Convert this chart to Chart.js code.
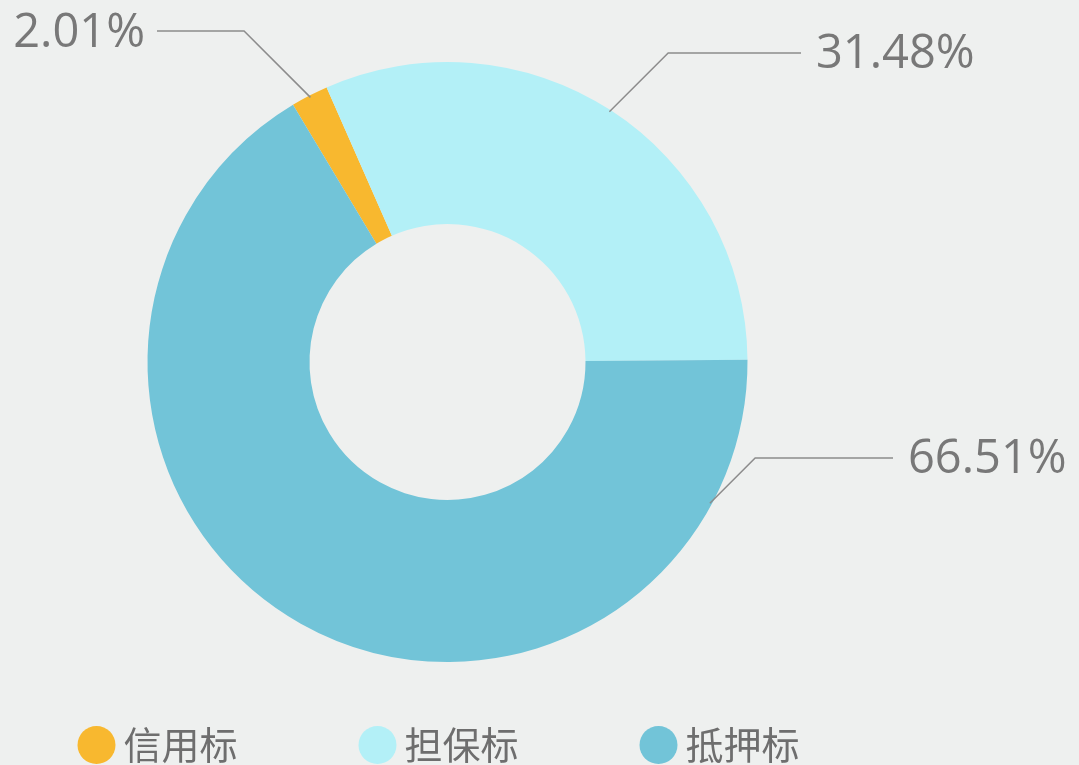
<!DOCTYPE html>
<html>
<head>
<meta charset="utf-8">
<script src="https://cdn.jsdelivr.net/npm/chart.js@4/dist/chart.umd.min.js"></script>
<style>
  html, body { margin: 0; padding: 0; background: #eef0ef; }
  #wrap { width: 1079px; height: 765px; position: relative; }
  canvas { display: block; }
</style>
</head>
<body>
<div id="wrap"><canvas id="c" width="1079" height="765"></canvas></div>
<script>
// ---- data ----
const categories = ['信用标', '担保标', '抵押标'];
const shares = [2.01, 31.48, 66.51];
const percentLabels = ['2.01%', '31.48%', '66.51%'];
const sliceColors = ['#f8b82f', '#b3f0f7', '#72c4d8'];

// ---- label / leader line styling (not data) ----
const anchorFraction = [0.5, 0.5, 0.12];
const labelSide = ['left', 'right', 'right'];
const labelLineY = [31, 53, 458];
const labelLineEndX = [157, 801, 893];

const bgPlugin = {
  id: 'bg',
  beforeDraw(chart) {
    const ctx = chart.ctx;
    ctx.save();
    ctx.fillStyle = '#eef0ef';
    ctx.fillRect(0, 0, chart.width, chart.height);
    ctx.restore();
  }
};

const leaderPlugin = {
  id: 'leaders',
  afterDatasetsDraw(chart) {
    const ctx = chart.ctx;
    const meta = chart.getDatasetMeta(0);
    ctx.save();
    meta.data.forEach((arc, i) => {
      const p = arc.getProps(['x', 'y', 'startAngle', 'endAngle', 'outerRadius'], true);
      const ang = p.startAngle + anchorFraction[i] * (p.endAngle - p.startAngle);
      const r = p.outerRadius - 2;
      const ax = p.x + Math.cos(ang) * r;
      const ay = p.y + Math.sin(ang) * r;
      const sign = labelSide[i] === 'right' ? 1 : -1;
      const ly = labelLineY[i];
      const ex = ax + sign * Math.abs(ly - ay);
      ctx.beginPath();
      ctx.moveTo(ax, ay);
      ctx.lineTo(ex, ly);
      ctx.lineTo(labelLineEndX[i], ly);
      ctx.strokeStyle = '#8c8c8c';
      ctx.lineWidth = 1.5;
      ctx.stroke();

      ctx.font = '47px "Open Sans", "Liberation Sans", sans-serif';
      ctx.fillStyle = '#787878';
      ctx.textBaseline = 'middle';
      if (sign > 0) {
        ctx.textAlign = 'left';
        ctx.fillText(percentLabels[i], labelLineEndX[i] + 15, ly + 2);
      } else {
        ctx.textAlign = 'right';
        ctx.fillText(percentLabels[i], labelLineEndX[i] - 12, ly + 3);
      }
    });
    ctx.restore();
  }
};

const legendPlugin = {
  id: 'customLegend',
  afterDraw(chart) {
    const ctx = chart.ctx;
    const y = 745;
    const radius = 19;
    const gap = 8;
    const spacing = 121;
    ctx.save();
    ctx.font = '38px "Noto Sans CJK SC", sans-serif';
    const widths = categories.map(t => radius * 2 + gap + ctx.measureText(t).width);
    const total = widths.reduce((a, b) => a + b, 0) + spacing * (categories.length - 1);
    const centerX = (chart.chartArea.left + chart.chartArea.right) / 2 - 9;
    let x = centerX - total / 2;
    categories.forEach((t, i) => {
      ctx.beginPath();
      ctx.arc(x + radius, y, radius, 0, Math.PI * 2);
      ctx.fillStyle = sliceColors[i];
      ctx.fill();
      ctx.fillStyle = '#6e6e6e';
      ctx.textAlign = 'left';
      ctx.textBaseline = 'middle';
      ctx.fillText(t, x + radius * 2 + gap, y);
      x += widths[i] + spacing;
    });
    ctx.restore();
  }
};

new Chart(document.getElementById('c'), {
  type: 'doughnut',
  data: {
    labels: categories,
    datasets: [{
      data: shares,
      backgroundColor: sliceColors,
      borderWidth: 0
    }]
  },
  options: {
    responsive: false,
    animation: false,
    devicePixelRatio: 1,
    rotation: -31,
    cutout: '46%',
    layout: { padding: { top: 62, bottom: 103, left: 147, right: 331 } },
    plugins: {
      legend: { display: false },
      tooltip: { enabled: false }
    }
  },
  plugins: [bgPlugin, leaderPlugin, legendPlugin]
});
</script>
</body>
</html>
